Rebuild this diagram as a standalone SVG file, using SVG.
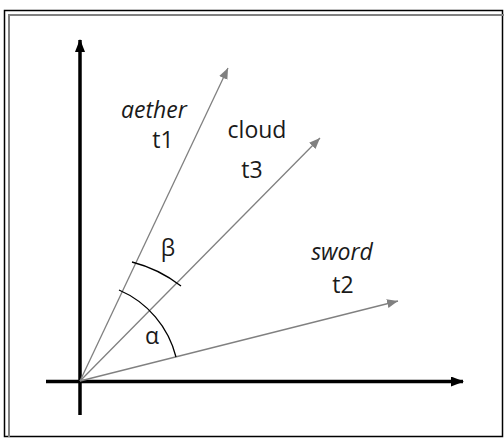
<svg xmlns="http://www.w3.org/2000/svg" width="504" height="440" viewBox="0 0 504 440">
<defs>
<style>
.axis{stroke:#000;stroke-width:3.5;fill:none}
.vec{stroke:#808080;stroke-width:1.3;fill:none}
.arc{stroke:#000;stroke-width:1.3;fill:none}
text{font-family:"Open Sans","DejaVu Sans",sans-serif;font-size:23px;fill:#1a1a1a;text-anchor:middle}
.it{font-style:italic}
</style>
<marker id="ba" markerUnits="userSpaceOnUse" markerWidth="14" markerHeight="12" refX="12" refY="5" orient="auto">
<path d="M0,0 L13,5 L0,10 z" fill="#000"/>
</marker>
<marker id="ga" markerUnits="userSpaceOnUse" markerWidth="12" markerHeight="10" refX="11" refY="4.5" orient="auto">
<path d="M0,0 L11,4.5 L0,9 z" fill="#808080"/>
</marker>
</defs>
<rect width="504" height="440" fill="#fff"/>
<g id="frame">
<rect x="4.5" y="10.5" width="498" height="426" fill="none" stroke="#000" stroke-width="1.5"/>
<path d="M9,437 V15 H504" fill="none" stroke="#808080" stroke-width="2"/>
</g>
<g id="connectors">
<line class="axis" x1="80" y1="415" x2="80" y2="40" marker-end="url(#ba)"/>
<line class="axis" x1="46" y1="381.5" x2="463" y2="381.5" marker-end="url(#ba)"/>
<line class="vec" x1="80" y1="381" x2="228" y2="68" marker-end="url(#ga)"/>
<line class="vec" x1="80" y1="381" x2="320" y2="138" marker-end="url(#ga)"/>
<line class="vec" x1="80" y1="381" x2="398" y2="301" marker-end="url(#ga)"/>
<path class="arc" d="M119,290 A99,99 0 0 1 176,357"/>
<path class="arc" d="M132,262 A135,135 0 0 1 181,286"/>
</g>
<g id="t1"><text class="it" x="154" y="118">aether</text><text x="163" y="148">t1</text></g>
<g id="t3"><text x="257" y="138">cloud</text><text x="252" y="178">t3</text></g>
<g id="t2"><text class="it" x="342" y="260">sword</text><text x="343" y="293">t2</text></g>
<g id="beta"><text x="168" y="256">β</text></g>
<g id="alpha"><text x="152" y="344">α</text></g>
</svg>
